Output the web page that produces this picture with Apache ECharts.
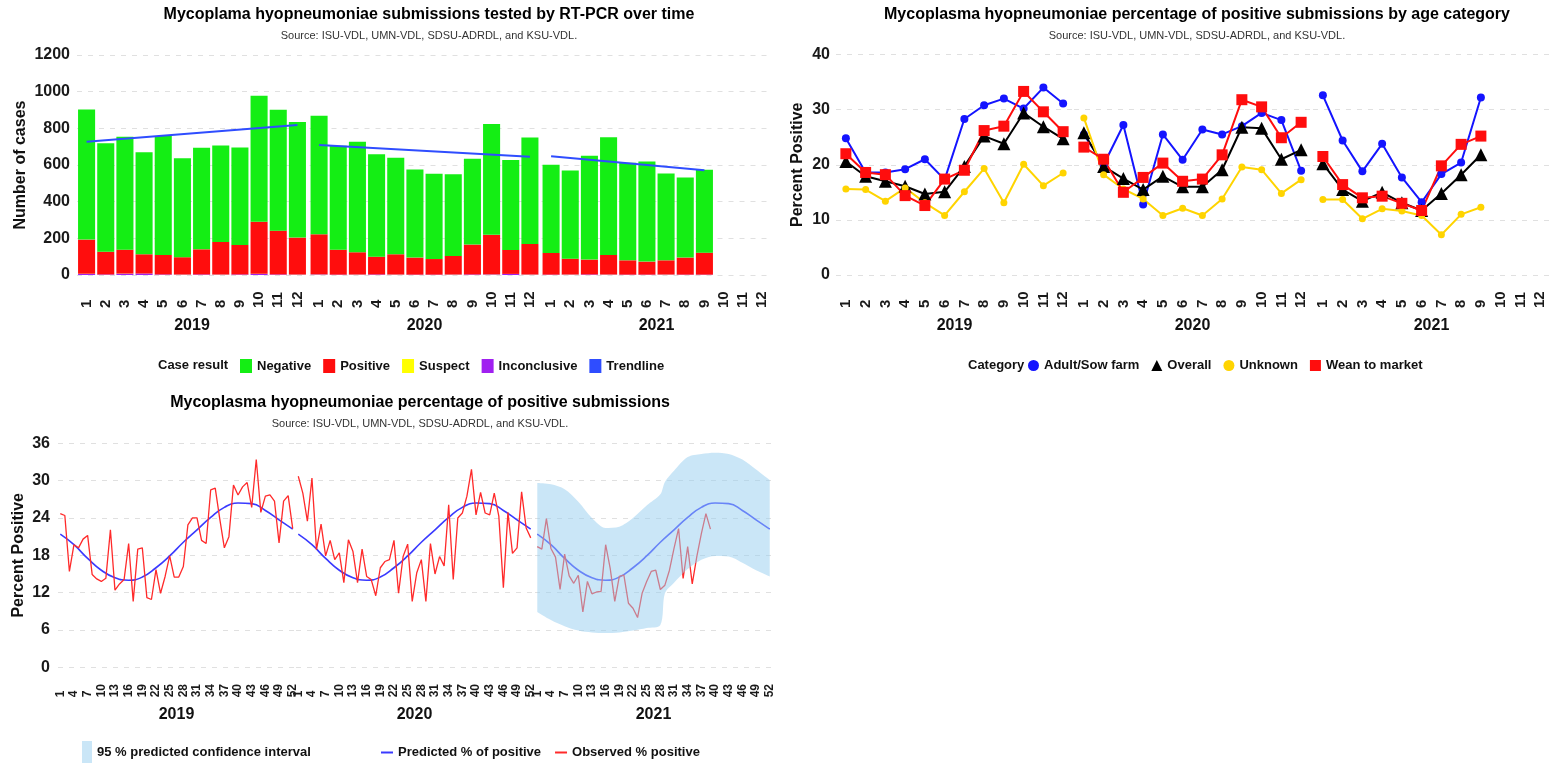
<!DOCTYPE html>
<html>
<head>
<meta charset="utf-8">
<script src="https://cdn.jsdelivr.net/npm/echarts@6/dist/echarts.min.js"></script>
<style>
  html, body { margin: 0; padding: 0; background: #ffffff; }
  #chart { width: 1563px; height: 766px; }
</style>
</head>
<body>
<div id="chart"></div>
<script>
// ---------------- DATA ----------------
const years = ['2019', '2020', '2021'];
const months = ['1','2','3','4','5','6','7','8','9','10','11','12'];
const weeks = Array.from({length: 52}, (_, i) => String(i + 1));

// Panel 1: submissions by case result (counts per month)
const negative2019 = [710, 591, 616, 557, 649, 540, 554, 527, 532, 688, 660, 630];
const positive2019 = [186, 124, 130, 105, 106, 94, 137, 177, 161, 283, 239, 201];
const suspect2019 = [1, 0, 1, 0, 0, 1, 0, 1, 0, 1, 0, 1];
const inconclusive2019 = [6, 3, 7, 8, 3, 2, 3, 2, 3, 6, 3, 2];

const negative2020 = [647, 567, 603, 558, 526, 481, 465, 446, 468, 604, 490, 581];
const positive2020 = [218, 136, 121, 97, 110, 93, 85, 101, 163, 215, 131, 166];
const suspect2020 = [1, 0, 1, 0, 1, 0, 0, 1, 0, 1, 0, 1];
const inconclusive2020 = [3, 2, 2, 3, 2, 2, 2, 2, 3, 3, 6, 2];

const negative2021 = [481, 481, 566, 643, 532, 546, 474, 437, 452];
const positive2021 = [118, 86, 81, 106, 78, 71, 77, 93, 120];
const suspect2021 = [0, 1, 0, 1, 0, 0, 1, 0, 0];
const inconclusive2021 = [2, 2, 3, 2, 2, 2, 2, 2, 2];

// yearly trendline: value at first and last month
const trendStart = [727, 709, 648];
const trendEnd = [818, 645, 572];
const trendLastMonth = ['12', '12', '9'];

// Panel 2: percent positive by age category (monthly)
const adult2019 = [24.8, 18.6, 18.6, 19.2, 21.0, 17.3, 28.3, 30.8, 32.0, 30.2, 34.0, 31.1];
const overall2019 = [20.6, 17.9, 17.0, 16.1, 14.7, 15.1, 19.7, 25.2, 23.8, 29.4, 26.9, 24.7];
const unknown2019 = [15.6, 15.5, 13.4, 15.8, 13.1, 10.8, 15.1, 19.3, 13.1, 20.1, 16.2, 18.5];
const wean2019 = [22.0, 18.6, 18.2, 14.4, 12.6, 17.4, 19.0, 26.2, 27.0, 33.3, 29.6, 26.0];

const adult2020 = [25.5, 20.0, 27.2, 12.8, 25.5, 20.9, 26.4, 25.5, 27.0, 29.4, 28.1, 18.9];
const overall2020 = [25.8, 19.7, 17.5, 15.5, 17.9, 16.0, 16.0, 19.1, 26.8, 26.6, 21.0, 22.7];
const unknown2020 = [28.5, 18.2, 15.6, 13.8, 10.8, 12.1, 10.8, 13.8, 19.6, 19.1, 14.8, 17.3];
const wean2020 = [23.2, 21.0, 15.0, 17.7, 20.3, 17.0, 17.4, 21.8, 31.8, 30.5, 24.9, 27.7];

const adult2021 = [32.6, 24.4, 18.8, 23.8, 17.7, 13.2, 18.3, 20.4, 32.2];
const overall2021 = [20.2, 15.5, 13.4, 15.0, 13.1, 11.7, 14.8, 18.2, 21.8];
const unknown2021 = [13.7, 13.7, 10.2, 12.0, 11.6, 10.8, 7.3, 11.0, 12.3];
const wean2021 = [21.5, 16.4, 14.0, 14.3, 13.0, 11.7, 19.8, 23.7, 25.2];

// Panel 3: weekly percent positive
const predictedWeeks = ['1','4','7','10','13','16','19','22','25','28','31','34','37','40','43','46','49','52'];
const predictedPct = [21.4, 19.7, 17.5, 15.6, 14.4, 14.0, 14.5, 16.0, 17.9, 20.1, 22.1, 24.1, 25.7, 26.4, 26.3, 25.2, 23.7, 22.2];

const observed2019 = [24.7, 24.4, 15.4, 19.7, 19.2, 20.6, 21.2, 14.9, 14.2, 13.8,
  14.3, 22.1, 12.4, 13.4, 14.1, 19.9, 10.6, 19.0, 19.2, 11.2,
  10.9, 15.7, 11.9, 14.6, 17.9, 14.5, 14.5, 16.2, 22.9, 24.0,
  24.0, 20.4, 19.9, 28.5, 28.8, 23.8, 19.2, 21.0, 29.3, 27.7,
  29.0, 29.7, 25.7, 33.4, 24.9, 27.5, 27.7, 26.7, 20.0, 26.7,
  27.6, 22.3];
const observed2020 = [30.7, 28.0, 23.5, 30.4, 18.9, 23.0, 17.9, 20.4, 17.3, 18.4,
  13.6, 20.5, 18.6, 13.6, 19.0, 14.6, 14.1, 11.5, 16.0, 17.0,
  17.3, 20.4, 11.9, 17.8, 19.8, 10.6, 15.2, 17.3, 10.6, 19.9,
  15.0, 17.8, 16.3, 26.1, 14.1, 24.0, 24.8, 27.5, 31.8, 24.5,
  28.1, 24.8, 24.5, 28.0, 24.3, 12.8, 24.9, 18.3, 19.2, 28.2,
  22.4, 20.8];
const observed2021 = [19.4, 19.0, 23.9, 19.1, 17.7, 12.5, 18.2, 14.7, 13.5, 14.8,
  8.9, 13.8, 11.8, 12.1, 12.2, 19.7, 15.9, 10.6, 14.6, 14.8,
  10.3, 9.5, 8.0, 11.9, 13.8, 15.4, 15.6, 12.5, 13.2, 15.6,
  19.1, 22.3, 14.3, 19.4, 13.4, 17.8, 21.5, 24.7, 22.2];

// 95% prediction band (2021)
const ciWeeks = ['1','4','7','10','13','16','19','22','25','28','29','31','34','37','40','43','46','49','52'];
const ciUpper = [29.6, 29.4, 28.6, 26.6, 24.0, 22.4, 22.6, 24.0, 26.0, 27.8, 29.8, 31.6, 33.8, 34.3, 34.5, 34.3, 33.4, 31.8, 30.1];
const ciLower = [8.9, 7.6, 6.6, 5.9, 5.6, 5.5, 5.6, 5.9, 6.3, 6.8, 11.9, 13.6, 15.8, 17.3, 17.9, 17.8, 16.8, 15.6, 14.6];

// ---------------- LAYOUT / STYLE ----------------
const FONT = 'Liberation Sans, Arial, Helvetica, sans-serif';
const C = {
  negative: '#14ee14', positive: '#ff0d0d', suspect: '#ffff00', inconclusive: '#a020f0', trend: '#2f4dff',
  adult: '#1414ff', overall: '#000000', unknown: '#ffd400', wean: '#ff0d0d',
  predicted: '#3a3aff', observed: '#ff2a2a', band: 'rgba(150,205,240,0.5)'
};
const p1Left = [77, 309.5, 541.5], p1W = 230, p1Top = 55, p1H = 220;
const p2Left = [836, 1074, 1313], p2W = 237, p2Top = 54.5, p2H = 220.5;
const p3Left = [58, 296, 535], p3W = 237, p3Top = 443.3, p3H = 224;

const grids = [], xAxes = [], yAxes = [], series = [];
const splitLine = { show: true, lineStyle: { color: '#e0e0e0', type: [5, 6], width: 1 } };
const yLabel = (m) => ({ fontFamily: FONT, fontSize: 16, fontWeight: 'bold', color: '#1a1a1a', margin: m,
  formatter: (v) => String(v) });
const yNameStyle = { fontFamily: FONT, fontSize: 16, fontWeight: 'bold', color: '#111' };

function addGrid(left, top, w, h) { grids.push({ left, top, width: w, height: h }); return grids.length - 1; }

function addX(gi, cats, year, labelOpts, nameGap) {
  xAxes.push({
    type: 'category', gridIndex: gi, data: cats, boundaryGap: true,
    axisLine: { show: false }, axisTick: { show: false }, splitLine: { show: false },
    axisLabel: Object.assign({ rotate: 90, align: 'left', verticalAlign: 'middle', fontFamily: FONT, fontWeight: 'bold', color: '#1a1a1a' }, labelOpts),
    name: year, nameLocation: 'middle', nameGap: nameGap,
    nameTextStyle: { fontFamily: FONT, fontSize: 16, fontWeight: 'bold', color: '#111' }
  });
}
function addY(gi, min, max, interval, first, name, margin, nameGap) {
  yAxes.push({
    type: 'value', gridIndex: gi, min, max, interval,
    axisLine: { show: false }, axisTick: { show: false }, splitLine,
    axisLabel: first ? yLabel(margin) : { show: false },
    name: first ? name : '', nameLocation: 'middle', nameGap: nameGap, nameRotate: 90,
    nameTextStyle: yNameStyle
  });
}

// ---- Panel 1 ----
const p1Neg = [negative2019, negative2020, negative2021];
const p1Pos = [positive2019, positive2020, positive2021];
const p1Sus = [suspect2019, suspect2020, suspect2021];
const p1Inc = [inconclusive2019, inconclusive2020, inconclusive2021];
for (let f = 0; f < 3; f++) {
  const gi = addGrid(p1Left[f], p1Top, p1W, p1H);
  addX(gi, months, years[f], { fontSize: 15, margin: 33, interval: 0 }, 43);
  addY(gi, 0, 1200, 200, f === 0, 'Number of cases', 7, 48);
  const stack = 'cases' + f;
  const barBase = { type: 'bar', xAxisIndex: gi, yAxisIndex: gi, stack, barCategoryGap: '11%' };
  series.push(Object.assign({ name: 'Inconclusive', data: p1Inc[f], itemStyle: { color: C.inconclusive } }, barBase));
  series.push(Object.assign({ name: 'Suspect', data: p1Sus[f], itemStyle: { color: C.suspect } }, barBase));
  series.push(Object.assign({ name: 'Positive', data: p1Pos[f], itemStyle: { color: C.positive } }, barBase));
  series.push(Object.assign({ name: 'Negative', data: p1Neg[f], itemStyle: { color: C.negative } }, barBase));
  series.push({
    name: 'Trendline', type: 'line', xAxisIndex: gi, yAxisIndex: gi, symbol: 'none', z: 5,
    data: [['1', trendStart[f]], [trendLastMonth[f], trendEnd[f]]],
    itemStyle: { color: C.trend }, lineStyle: { color: C.trend, width: 2 }
  });
}

// ---- Panel 2 ----
const p2 = {
  adult: [adult2019, adult2020, adult2021],
  overall: [overall2019, overall2020, overall2021],
  unknown: [unknown2019, unknown2020, unknown2021],
  wean: [wean2019, wean2020, wean2021]
};
const p2Defs = [
  { key: 'adult', name: 'Adult/Sow farm', symbol: 'circle', size: 8 },
  { key: 'overall', name: 'Overall', symbol: 'triangle', size: 13 },
  { key: 'unknown', name: 'Unknown', symbol: 'circle', size: 7 },
  { key: 'wean', name: 'Wean to market', symbol: 'rect', size: 11 }
];
for (let f = 0; f < 3; f++) {
  const gi = addGrid(p2Left[f], p2Top, p2W, p2H);
  addX(gi, months, years[f], { fontSize: 15, margin: 33, interval: 0 }, 43);
  addY(gi, 0, 40, 10, f === 0, 'Percent Positive', 6, 30);
  p2Defs.forEach(d => {
    series.push({
      name: d.name, type: 'line', xAxisIndex: gi, yAxisIndex: gi,
      data: p2[d.key][f], symbol: d.symbol, symbolSize: d.size,
      itemStyle: { color: C[d.key] }, lineStyle: { color: C[d.key], width: 2 }
    });
  });
}

// ---- Panel 3 ----
const p3Obs = [observed2019, observed2020, observed2021];
for (let f = 0; f < 3; f++) {
  const gi = addGrid(p3Left[f], p3Top, p3W, p3H);
  addX(gi, weeks, years[f], { fontSize: 12, margin: 30, interval: (i) => i % 3 === 0 }, 39);
  addY(gi, 0, 36, 6, f === 0, 'Percent Positive', 8, 31);
  series.push({
    name: 'Predicted % of positive', type: 'line', xAxisIndex: gi, yAxisIndex: gi, z: 2,
    data: predictedWeeks.map((w, i) => [w, predictedPct[i]]), smooth: 0.5, symbol: 'none',
    itemStyle: { color: C.predicted }, lineStyle: { color: C.predicted, width: 1.6 }
  });
  series.push({
    name: 'Observed % positive', type: 'line', xAxisIndex: gi, yAxisIndex: gi, z: 2,
    data: p3Obs[f], symbol: 'none',
    itemStyle: { color: C.observed }, lineStyle: { color: C.observed, width: 1.3 }
  });
  if (f === 2) {
    series.push({
      name: 'ciLowerBase', type: 'line', xAxisIndex: gi, yAxisIndex: gi, stack: 'ci', z: 3,
      data: ciWeeks.map((w, i) => [w, ciLower[i]]), symbol: 'none', smooth: 0.3,
      lineStyle: { opacity: 0 }, itemStyle: { color: 'transparent' }, silent: true
    });
    series.push({
      name: '95 % predicted confidence interval', type: 'line', xAxisIndex: gi, yAxisIndex: gi, stack: 'ci', z: 3,
      data: ciWeeks.map((w, i) => [w, +(ciUpper[i] - ciLower[i]).toFixed(1)]), symbol: 'none', smooth: 0.3,
      lineStyle: { opacity: 0 }, itemStyle: { color: C.band }, areaStyle: { color: C.band, opacity: 1 }
    });
  }
}

const legText = { fontFamily: FONT, fontSize: 13, fontWeight: 'bold', color: '#111' };
const option = {
  animation: false,
  backgroundColor: '#ffffff',
  textStyle: { fontFamily: FONT },
  title: [
    { text: 'Mycoplama hyopneumoniae submissions tested by RT-PCR over time', left: 424, top: 2, textAlign: 'center',
      textStyle: { fontFamily: FONT, fontSize: 16, fontWeight: 'bold', color: '#000' } },
    { text: 'Source: ISU-VDL, UMN-VDL, SDSU-ADRDL, and KSU-VDL.', left: 424, top: 25, textAlign: 'center',
      textStyle: { fontFamily: FONT, fontSize: 11, fontWeight: 'normal', color: '#333' } },
    { text: 'Mycoplasma hyopneumoniae percentage of positive submissions by age category', left: 1192, top: 2, textAlign: 'center',
      textStyle: { fontFamily: FONT, fontSize: 16, fontWeight: 'bold', color: '#000' } },
    { text: 'Source: ISU-VDL, UMN-VDL, SDSU-ADRDL, and KSU-VDL.', left: 1192, top: 25, textAlign: 'center',
      textStyle: { fontFamily: FONT, fontSize: 11, fontWeight: 'normal', color: '#333' } },
    { text: 'Mycoplasma hyopneumoniae percentage of positive submissions', left: 415, top: 390, textAlign: 'center',
      textStyle: { fontFamily: FONT, fontSize: 16, fontWeight: 'bold', color: '#000' } },
    { text: 'Source: ISU-VDL, UMN-VDL, SDSU-ADRDL, and KSU-VDL.', left: 415, top: 413, textAlign: 'center',
      textStyle: { fontFamily: FONT, fontSize: 11, fontWeight: 'normal', color: '#333' } }
  ],
  legend: [
    { left: 240, top: 359, itemWidth: 12, itemHeight: 14, itemGap: 12, padding: 0, textStyle: legText, selectedMode: false,
      data: ['Negative', 'Positive', 'Suspect', 'Inconclusive', 'Trendline'].map(n => ({ name: n, icon: 'rect' })) },
    { left: 1028, top: 359, itemWidth: 11, itemHeight: 11, itemGap: 12, padding: 0, textStyle: legText, selectedMode: false,
      data: [{ name: 'Adult/Sow farm', icon: 'circle' }, { name: 'Overall', icon: 'triangle' },
             { name: 'Unknown', icon: 'circle' }, { name: 'Wean to market', icon: 'rect' }] },
    { left: 82, top: 741, itemWidth: 10, itemHeight: 22, padding: 0, textStyle: legText, selectedMode: false,
      data: [{ name: '95 % predicted confidence interval', icon: 'rect' }] },
    { left: 381, top: 746, itemWidth: 12, itemHeight: 2, itemGap: 14, padding: 0, textStyle: legText, selectedMode: false,
      data: [{ name: 'Predicted % of positive', icon: 'rect' }, { name: 'Observed % positive', icon: 'rect' }] }
  ],
  graphic: [
    { type: 'text', left: 158, top: 359, style: { text: 'Case result', font: 'bold 13px ' + FONT, fill: '#111' } },
    { type: 'text', left: 968, top: 359, style: { text: 'Category', font: 'bold 13px ' + FONT, fill: '#111' } }
  ],
  grid: grids,
  xAxis: xAxes,
  yAxis: yAxes,
  series: series
};

const chart = echarts.init(document.getElementById('chart'), null, { renderer: 'canvas' });
chart.setOption(option);
</script>
</body>
</html>
